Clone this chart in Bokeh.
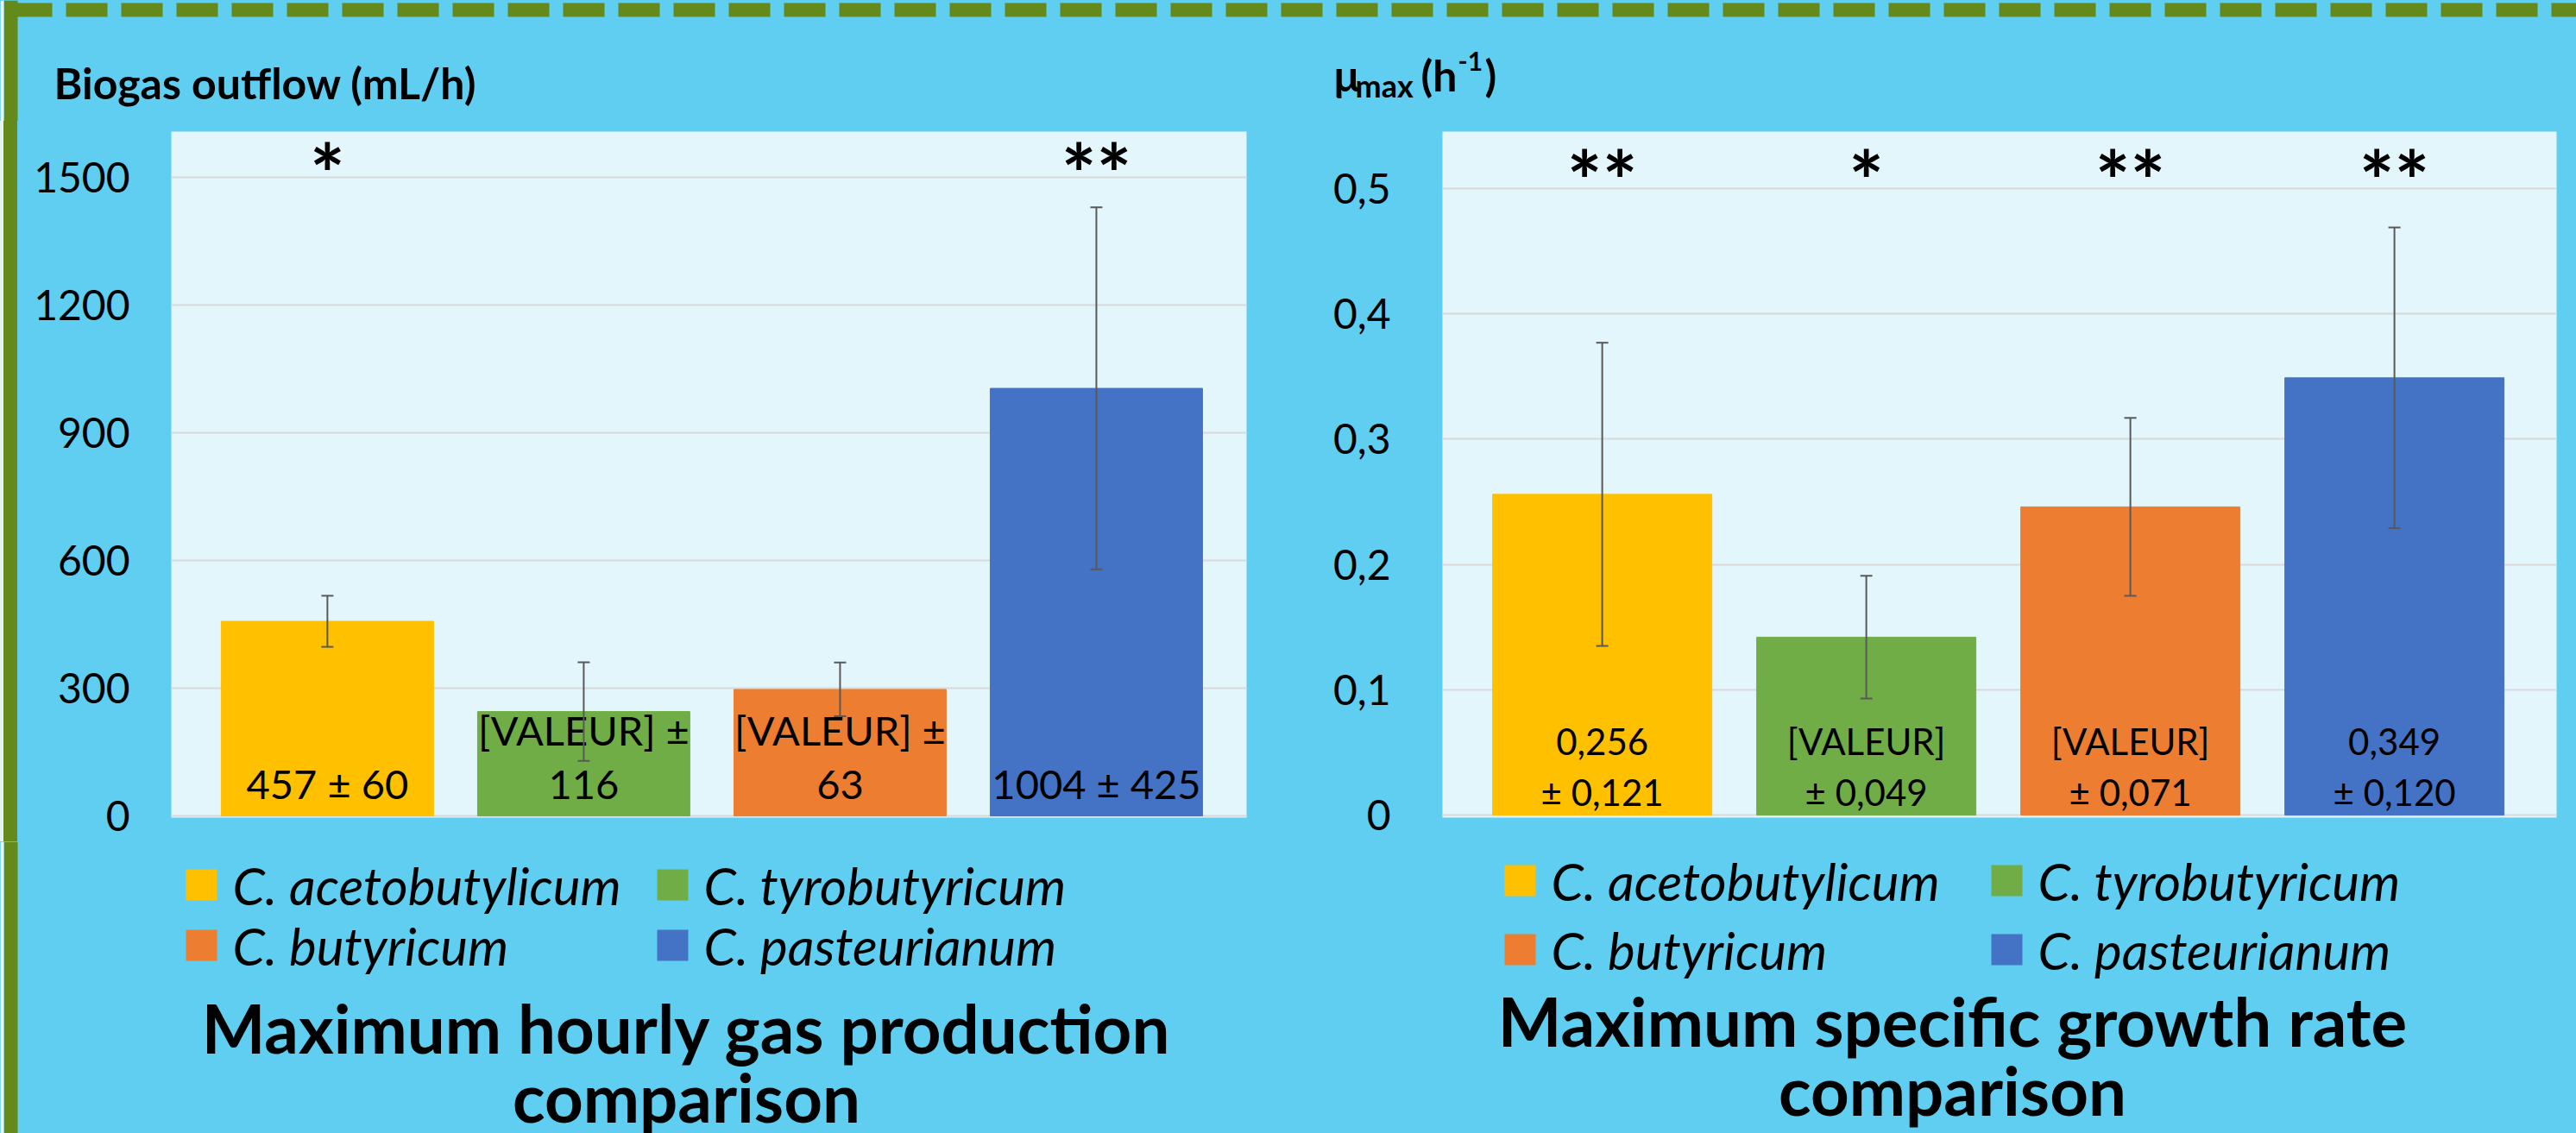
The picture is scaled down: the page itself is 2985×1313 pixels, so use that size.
from bokeh.plotting import figure
from bokeh.models import ColumnDataSource, Range1d, FixedTicker, Whisker, TeeHead, Span, Div
from bokeh.layouts import column, row
from bokeh.embed import file_html
from bokeh.resources import INLINE
from bokeh.core.properties import value

# ---------------- data ----------------
species = ["C. acetobutylicum", "C. tyrobutyricum", "C. butyricum", "C. pasteurianum"]
colors = ["#FFC000", "#70AD47", "#ED7D31", "#4472C4"]

gas_values = [457, 245, 297, 1004]
gas_errors = [60, 116, 63, 425]
gas_labels = ["457 ± 60", "[VALEUR] ±\n116", "[VALEUR] ±\n63", "1004 ± 425"]
gas_signif = ["*", "", "", "**"]
gas_ticks = [0, 300, 600, 900, 1200, 1500]

mu_values = [0.256, 0.142, 0.246, 0.349]
mu_errors = [0.121, 0.049, 0.071, 0.120]
mu_labels = ["0,256\n± 0,121", "[VALEUR]\n± 0,049", "[VALEUR]\n± 0,071", "0,349\n± 0,120"]
mu_signif = ["**", "*", "**", "**"]
mu_ticks = [0, 0.1, 0.2, 0.3, 0.4, 0.5]
mu_tick_labels = ["0", "0,1", "0,2", "0,3", "0,4", "0,5"]

title_gas = "Maximum hourly gas production\ncomparison"
title_mu = "Maximum specific growth rate\ncomparison"
ylabel_gas = "Biogas outflow (mL/h)"

# ---------------- style ----------------
BG = "#5FCEF1"
PLOT_BG = "#E3F6FC"
EDGE = "#E6F4F8"
GREEN = "#638A1B"
GRID = "#D9D9D9"
ERR = "#595959"
FONT = "Lato"

W = 2985
TOP_H, CHART_H, BOT_H = 140, 835, 338


def make_source(vals, errs, labels, signif):
    pos = list(range(1, len(species) + 1))
    return ColumnDataSource(dict(
        x=pos, top=vals, color=colors, species=species,
        upper=[v + e for v, e in zip(vals, errs)],
        lower=[v - e for v, e in zip(vals, errs)],
        label=labels, signif=signif,
    ))


def deco_fig(w, h, bg=BG):
    return figure(width=w, height=h, x_range=Range1d(0, w), y_range=Range1d(h, 0),
                  title=None, x_axis_type=None, y_axis_type=None, min_border=0,
                  output_backend="svg", toolbar_location=None,
                  background_fill_color=bg, border_fill_color=bg, outline_line_color=None)


def add_left_edge(p):
    p.add_layout(Span(location=12, dimension="height", line_color=GREEN, line_width=16))
    p.add_layout(Span(location=2, dimension="height", line_color=EDGE, line_width=4))


def chart_fig(width, borders, xr, yr, src, bar_width, ticks, standoff,
              label_size, label_offset, label_lh, star_offset):
    bl, br, bt, bb = borders
    p = figure(width=width, height=CHART_H, x_range=xr, y_range=yr, title=None,
               x_axis_type=None, output_backend="svg", toolbar_location=None,
               min_border_left=bl, min_border_right=br, min_border_top=bt,
               min_border_bottom=bb, background_fill_color=PLOT_BG,
               border_fill_color=BG, outline_line_color=None)
    p.xgrid.visible = False
    p.ygrid.grid_line_color = GRID
    p.ygrid.grid_line_width = 2
    ax = p.yaxis[0]
    ax.ticker = FixedTicker(ticks=ticks)
    ax.axis_line_color = None
    ax.major_tick_line_color = None
    ax.minor_tick_line_color = None
    ax.major_label_text_font = FONT
    ax.major_label_text_font_size = "48px"
    ax.major_label_text_color = "black"
    ax.major_label_standoff = standoff

    p.vbar(x="x", top="top", width=bar_width, color="color", source=src)

    w = Whisker(source=src, base="x", upper="upper", lower="lower",
                line_color=ERR, line_width=2, level="annotation",
                upper_head=TeeHead(size=14, line_color=ERR, line_width=2),
                lower_head=TeeHead(size=14, line_color=ERR, line_width=2))
    p.add_layout(w)

    p.text(x="x", y=0, text="label", source=src, text_align="center",
           text_baseline="bottom", y_offset=label_offset,
           text_font=value(FONT), text_font_size=label_size,
           text_line_height=label_lh, text_color="black")

    # significance stars, anchored on the top tick line, inside the frame
    p.text(x="x", y=max(ticks), text="signif", source=src, text_align="center",
           text_baseline="middle", y_offset=star_offset, text_font=value(FONT),
           text_font_size="96px", text_font_style="bold", text_color="black")
    return p


def add_legend(b, sw_left, col_step, row_center, row_step):
    n = len(species)
    cols = [i % 2 for i in range(n)]
    rows = [i // 2 for i in range(n)]
    sx = [sw_left + 18 + c * col_step for c in cols]
    sy = [row_center + r * row_step for r in rows]
    b.rect(x=sx, y=sy, width=36, height=36, fill_color=colors, line_color=None)
    b.text(x=[v + 36 for v in sx], y=sy, text=species, text_baseline="middle",
           text_font=value(FONT), text_font_style="italic", text_font_size="60px",
           text_color="black")


def add_title(b, title, x, top):
    b.text(x=[x], y=[top], text=[title], text_align="center",
           text_baseline="top", text_font=value(FONT), text_font_style="bold",
           text_font_size="78px", text_line_height=0.86, text_color="black")


# ---------------- top band: border, axis titles ----------------
topfig = deco_fig(W, TOP_H)
topfig.add_layout(Span(location=11, dimension="width", line_color=GREEN, line_width=16,
                       line_dash="48 16", line_dash_offset=52))
add_left_edge(topfig)
topfig.text(x=[62], y=[95], text=[ylabel_gas], text_baseline="alphabetic",
            text_font=value(FONT), text_font_style="bold", text_font_size="50px",
            text_color="black")
mu_parts = [("µ", 1544, 86, "50px"), ("max", 1570, 98, "36px"), ("(h", 1646, 86, "50px"),
            ("-1", 1689, 70, "30px"), (")", 1720, 86, "50px")]
for txt, x, y, size in mu_parts:
    topfig.text(x=[x], y=[y], text=[txt], text_baseline="alphabetic",
                text_font=value(FONT), text_font_style="bold", text_font_size=size,
                text_color="black")

# ---------------- charts ----------------
src_gas = make_source(gas_values, gas_errors, gas_labels, gas_signif)
chartL = chart_fig(1480, (178, 56, 12, 28), Range1d(0.391, 4.586), Range1d(-4, 1607),
                   src_gas, 0.828, gas_ticks, 42, "47px", -10, 1.09, -6)

src_mu = make_source(mu_values, mu_errors, mu_labels, mu_signif)
chartR = chart_fig(1465, (171, 3, 12, 28), Range1d(0.395, 4.614), Range1d(-0.002, 0.5455),
                   src_mu, 0.83, mu_ticks, 54, "42px", -2, 1.18, -11)
chartR.yaxis[0].major_label_overrides = dict(zip(mu_ticks, mu_tick_labels))

gbar = Div(text="", width=20, height=CHART_H, margin=0,
           styles={"background": f"linear-gradient(to right, {EDGE} 0px, {EDGE} 4px, "
                                 f"{GREEN} 4px, {GREEN} 20px)"})

# ---------------- bottom band: legends, titles ----------------
botfig = deco_fig(W, BOT_H)
add_left_edge(botfig)
add_legend(botfig, 215, 546, 50, 70)
add_legend(botfig, 1743, 564, 45, 80)
add_title(botfig, title_gas, 795, 168)
add_title(botfig, title_mu, 2262, 160)

layout = column(topfig,
                row(gbar, chartL, chartR, styles={"background-color": BG}),
                botfig, styles={"background-color": BG})

open("out.html", "w").write(file_html(layout, INLINE))
